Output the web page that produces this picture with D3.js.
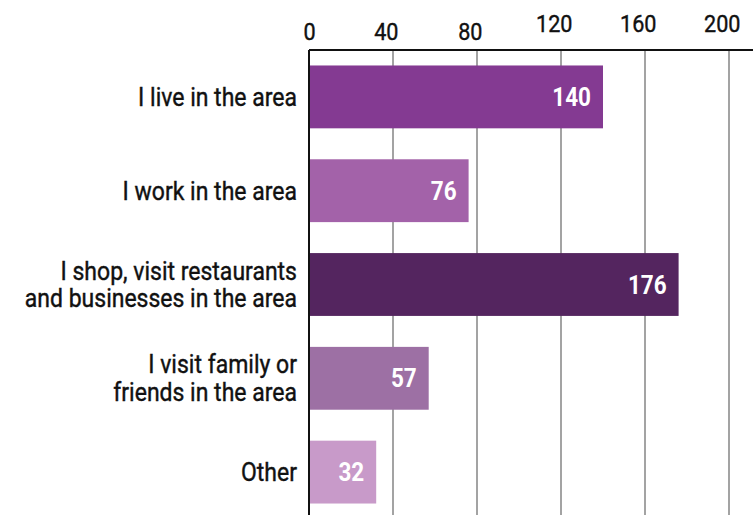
<!DOCTYPE html>
<html>
<head>
<meta charset="utf-8">
<script src="https://cdn.jsdelivr.net/npm/d3@7"></script>
<style>
  body { margin: 0; background: white; }
  text { font-family: Roboto, "Liberation Sans", sans-serif; }
  .cat { font-size: 25px; font-weight: 400; fill: #111; stroke: #111; stroke-width: 0.4px; }
  .tick text { font-size: 24px; font-weight: 400; fill: #111; stroke: #111; stroke-width: 0.4px; }
  .valor { font-size: 25px; font-weight: bold; fill: white; }
</style>
</head>
<body>
<svg id="plot"></svg>
<script>
const categories = [
  ["I live in the area"],
  ["I work in the area"],
  ["I shop, visit restaurants", "and businesses in the area"],
  ["I visit family or", "friends in the area"],
  ["Other"]
];
const values = [140, 76, 176, 57, 32];
const colors = ["#843a92", "#a362a9", "#54255f", "#9d70a4", "#c89ac9"];
const ticks = [0, 40, 80, 120, 160, 200];

const width = 753;
const height = 515;
const padding = {top: 50, left: 309, right: 24};
// la fuente original es condensada
const estrechoCat = 0.92;
const estrechoNum = 0.9;

const plot = d3.select("#plot")
    .attr("width", width)
    .attr("height", height);

const xScale = d3.scaleLinear()
    .domain([0, 200])
    .range([padding.left, width - padding.right]);

const yScale = d3.scaleBand()
    .domain(d3.range(values.length))
    .range([padding.top, 519])
    .paddingInner(0.33)
    .paddingOuter(0.165);

// lineas verticales
plot.selectAll("line.grid")
  .data(ticks.slice(1))
  .enter()
  .append("line")
    .attr("class", "grid")
    .attr("x1", (d) => xScale(d))
    .attr("x2", (d) => xScale(d))
    .attr("y1", padding.top)
    .attr("y2", height)
    .attr("stroke", "#666")
    .attr("stroke-width", 1.2);

// barras
plot.selectAll("rect")
  .data(values)
  .enter()
  .append("rect")
    .attr("x", xScale(0))
    .attr("y", (d, i) => yScale(i))
    .attr("width", (d) => xScale(d) - xScale(0))
    .attr("height", yScale.bandwidth())
    .attr("fill", (d, i) => colors[i]);

// valores
plot.selectAll("text.valor")
  .data(values)
  .enter()
  .append("text")
    .attr("class", "valor")
    .attr("transform", (d, i) => "translate(" + (xScale(d) - 12) + "," + (yScale(i) + yScale.bandwidth() / 2) + ") scale(" + estrechoNum + ",1)")
    .attr("dy", "0.36em")
    .attr("text-anchor", "end")
    .text((d) => d);

// categorias
const cats = plot.selectAll("text.cat")
  .data(categories)
  .enter()
  .append("text")
    .attr("class", "cat")
    .attr("text-anchor", "end")
    .attr("transform", (d, i) => "translate(297," + (yScale(i) + yScale.bandwidth() / 2) + ") scale(" + estrechoCat + ",1)");

cats.selectAll("tspan")
  .data((d) => d.map((t, j) => ({t: t, j: j, n: d.length})))
  .enter()
  .append("tspan")
    .attr("x", 0)
    .attr("dy", (d) => d.j == 0 ? (0.36 - (d.n - 1) * 0.56) + "em" : "1.12em")
    .text((d) => d.t);

// eje superior
const axis = plot.append("g")
  .attr("transform", "translate(0," + padding.top + ")")
  .call(d3.axisTop(xScale).tickValues(ticks).tickSize(0).tickPadding(10));

axis.select(".domain")
  .attr("stroke", "#111")
  .attr("stroke-width", 2)
  .attr("d", "M" + xScale(0) + ",0H" + width);

axis.selectAll(".tick text")
  .attr("font-family", null)
  .attr("font-size", null)
  .attr("transform", "scale(" + estrechoNum + ",1)")
  .attr("dx", (d, i) => i == 0 ? 0 : -8)
  .attr("dy", (d, i) => i < 3 ? 0 : -8);

// eje vertical
plot.append("line")
  .attr("x1", xScale(0))
  .attr("x2", xScale(0))
  .attr("y1", padding.top)
  .attr("y2", height)
  .attr("stroke", "#111")
  .attr("stroke-width", 2);
</script>
</body>
</html>
